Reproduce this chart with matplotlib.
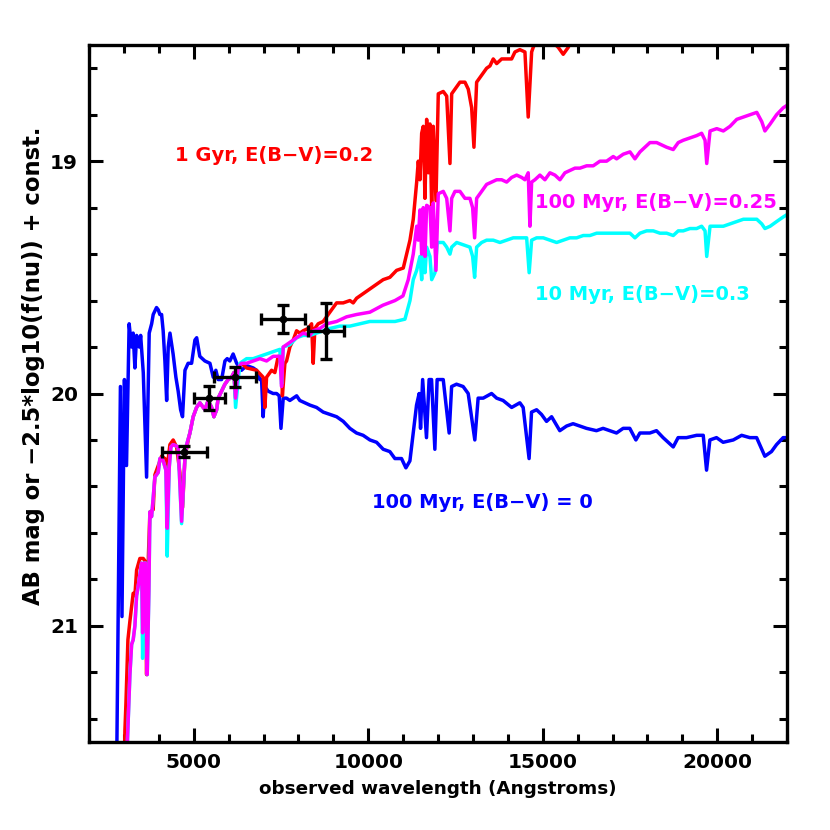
import numpy as np
import matplotlib
matplotlib.use("Agg")
import matplotlib.pyplot as plt
from matplotlib.ticker import MultipleLocator

plt.rcParams['font.family'] = ['DejaVu Sans']
plt.rcParams['font.weight'] = 'bold'

# ---- data: (wavelength [A], AB mag) ----
blue_100myr_e0 = np.array([
    [2720, 21.58], [2800, 21.50], [2900, 19.97], [2945, 20.96], [3015, 19.94], [3075, 20.31],
    [3150, 19.70], [3220, 19.80], [3265, 19.74], [3315, 19.89], [3365, 19.75], [3440, 19.80],
    [3480, 19.75], [3555, 19.91], [3650, 20.36], [3725, 19.74], [3795, 19.70], [3840, 19.66],
    [3935, 19.63], [3985, 19.64], [4030, 19.66], [4080, 19.66], [4125, 19.73], [4175, 19.86],
    [4225, 20.03], [4270, 19.80], [4320, 19.74], [4410, 19.83], [4490, 19.93], [4555, 19.99],
    [4625, 20.07], [4680, 20.10], [4750, 19.90], [4840, 19.87], [4940, 19.87], [5035, 19.77],
    [5085, 19.76], [5175, 19.84], [5320, 19.86], [5465, 19.87], [5560, 19.93], [5635, 19.90],
    [5700, 19.94], [5800, 19.94], [5895, 19.86], [5960, 19.85], [6035, 19.86], [6130, 19.83],
    [6230, 19.87], [6370, 19.90], [6515, 19.88], [6705, 19.89], [6800, 19.90], [6895, 19.94],
    [6945, 19.94], [6990, 20.10], [7040, 19.97], [7135, 19.99], [7275, 20.00], [7375, 20.00],
    [7450, 20.01], [7500, 20.15], [7565, 20.02], [7660, 20.02], [7755, 20.03], [7850, 20.02],
    [7950, 20.01], [8040, 20.03], [8185, 20.04], [8330, 20.05], [8520, 20.06], [8710, 20.08],
    [8900, 20.09], [9095, 20.10], [9285, 20.12], [9475, 20.15], [9665, 20.17], [9855, 20.18],
    [10050, 20.20], [10240, 20.21], [10430, 20.24], [10620, 20.25], [10765, 20.28], [10955, 20.28],
    [11080, 20.32], [11195, 20.29], [11290, 20.17], [11385, 20.05], [11460, 20.00], [11500, 20.15],
    [11560, 19.94], [11670, 20.19], [11745, 19.94], [11815, 19.94], [11910, 20.24], [11975, 19.94],
    [12150, 19.94], [12320, 20.17], [12390, 19.97], [12530, 19.96], [12720, 19.97], [12865, 20.00],
    [13055, 20.20], [13150, 20.02], [13295, 20.02], [13535, 20.00], [13680, 20.02], [13865, 20.03],
    [14110, 20.06], [14345, 20.04], [14440, 20.06], [14610, 20.28], [14680, 20.08], [14825, 20.07],
    [14965, 20.09], [15110, 20.12], [15255, 20.10], [15490, 20.16], [15685, 20.14], [15870, 20.13],
    [16065, 20.14], [16255, 20.15], [16540, 20.16], [16730, 20.15], [16925, 20.16], [17115, 20.17],
    [17305, 20.15], [17495, 20.15], [17670, 20.20], [17785, 20.17], [18070, 20.17], [18260, 20.16],
    [18450, 20.19], [18740, 20.23], [18880, 20.19], [19120, 20.19], [19410, 20.18], [19600, 20.18],
    [19695, 20.33], [19790, 20.20], [19980, 20.19], [20170, 20.21], [20460, 20.20], [20700, 20.18],
    [20935, 20.19], [21130, 20.19], [21365, 20.27], [21555, 20.25], [21700, 20.22], [21890, 20.19],
    [22000, 20.19],
])

red_1gyr_e02 = np.array([
    [3014, 21.58], [3029, 21.45], [3057, 21.34], [3115, 21.06], [3172, 20.98], [3266, 20.86],
    [3315, 20.87], [3364, 20.76], [3458, 20.71], [3553, 20.71], [3602, 20.72], [3650, 21.21],
    [3702, 20.70], [3745, 20.51], [3839, 20.50], [3888, 20.35], [3937, 20.33], [4031, 20.29],
    [4080, 20.27], [4175, 20.28], [4223, 20.34], [4318, 20.22], [4412, 20.20], [4510, 20.23],
    [4604, 20.34], [4682, 20.49], [4748, 20.28], [4842, 20.20], [4891, 20.17], [4985, 20.10],
    [5083, 20.06], [5177, 20.04], [5321, 20.07], [5415, 20.03], [5513, 20.06], [5579, 20.10],
    [5656, 20.07], [5702, 20.02], [5799, 19.99], [5894, 19.96], [5989, 19.94], [6086, 19.93],
    [6152, 19.91], [6200, 20.02], [6275, 19.89], [6372, 19.87], [6515, 19.89], [6802, 19.90],
    [6991, 19.93], [7040, 20.06], [7088, 19.93], [7232, 19.90], [7326, 19.91], [7421, 19.84],
    [7518, 19.84], [7541, 20.01], [7613, 19.87], [7661, 19.86], [7756, 19.80], [7850, 19.77],
    [7948, 19.73], [8042, 19.74], [8137, 19.73], [8280, 19.72], [8378, 19.70], [8424, 19.87],
    [8472, 19.72], [8567, 19.70], [8710, 19.69], [8902, 19.65], [9094, 19.61], [9283, 19.61],
    [9475, 19.60], [9570, 19.61], [9667, 19.59], [9856, 19.57], [10048, 19.55], [10429, 19.51],
    [10621, 19.50], [10813, 19.47], [11005, 19.46], [11197, 19.34], [11291, 19.25], [11389, 19.09],
    [11435, 19.00], [11483, 19.08], [11532, 18.88], [11578, 18.85], [11627, 19.16], [11675, 18.82],
    [11724, 19.05], [11770, 18.84], [11819, 19.20], [11865, 18.85], [11942, 19.17], [12008, 18.71],
    [12151, 18.70], [12249, 18.72], [12343, 19.01], [12392, 18.71], [12486, 18.69], [12629, 18.66],
    [12772, 18.66], [12867, 18.69], [12964, 18.77], [13030, 18.94], [13107, 18.66], [13250, 18.63],
    [13393, 18.60], [13489, 18.59], [13583, 18.56], [13681, 18.58], [13824, 18.56], [13967, 18.56],
    [14110, 18.56], [14205, 18.53], [14345, 18.52], [14491, 18.53], [14585, 18.81], [14683, 18.53],
    [14729, 18.51], [14826, 18.48], [14969, 18.49], [15113, 18.49], [15302, 18.49], [15445, 18.51],
    [15588, 18.54], [15732, 18.51], [15829, 18.48], [16067, 18.44],
])

magenta_100myr_e025 = np.array([
    [3057, 21.58], [3100, 21.50], [3123, 21.41], [3172, 21.21], [3221, 21.08], [3266, 21.06],
    [3315, 21.00], [3364, 20.87], [3410, 20.83], [3458, 20.78], [3507, 20.73], [3536, 21.03],
    [3582, 20.73], [3622, 20.73], [3668, 21.21], [3716, 20.85], [3745, 20.51], [3794, 20.53],
    [3888, 20.36], [3983, 20.34], [4031, 20.28], [4080, 20.28], [4126, 20.29], [4203, 20.33],
    [4241, 20.58], [4298, 20.32], [4347, 20.23], [4412, 20.22], [4556, 20.23], [4653, 20.55],
    [4748, 20.28], [4797, 20.22], [4891, 20.17], [4985, 20.10], [5083, 20.06], [5177, 20.04],
    [5321, 20.07], [5415, 20.03], [5513, 20.06], [5579, 20.10], [5656, 20.07], [5702, 20.02],
    [5799, 19.99], [5894, 19.96], [5989, 19.94], [6086, 19.93], [6152, 19.91], [6200, 20.02],
    [6275, 19.89], [6372, 19.87], [6515, 19.87], [6704, 19.86], [6896, 19.85], [7088, 19.86],
    [7277, 19.84], [7469, 19.84], [7518, 19.97], [7564, 19.80], [7756, 19.78], [7948, 19.76],
    [8137, 19.74], [8329, 19.75], [8424, 19.73], [8615, 19.72], [8807, 19.70], [9094, 19.69],
    [9381, 19.67], [9667, 19.66], [10048, 19.65], [10421, 19.62], [10767, 19.60], [10996, 19.58],
    [11148, 19.51], [11291, 19.40], [11389, 19.28], [11435, 19.34], [11483, 19.21], [11532, 19.40],
    [11578, 19.20], [11627, 19.41], [11675, 19.19], [11770, 19.20], [11819, 19.37], [11865, 19.18],
    [11942, 19.47], [12008, 19.14], [12151, 19.13], [12249, 19.16], [12343, 19.30], [12392, 19.16],
    [12486, 19.13], [12629, 19.13], [12772, 19.16], [12915, 19.16], [12992, 19.20], [13049, 19.33],
    [13107, 19.16], [13250, 19.13], [13393, 19.10], [13536, 19.09], [13681, 19.08], [13824, 19.08],
    [13967, 19.09], [14110, 19.07], [14254, 19.06], [14397, 19.07], [14491, 19.08], [14585, 19.05],
    [14634, 19.28], [14683, 19.09], [14777, 19.08], [14920, 19.06], [15064, 19.08], [15207, 19.05],
    [15351, 19.06], [15494, 19.08], [15637, 19.05], [15780, 19.04], [15924, 19.03], [16067, 19.03],
    [16259, 19.02], [16448, 19.02], [16640, 19.00], [16832, 19.00], [17021, 18.98], [17118, 18.99],
    [17308, 18.97], [17500, 18.96], [17643, 18.99], [17787, 18.96], [17930, 18.94], [18073, 18.92],
    [18265, 18.92], [18408, 18.93], [18551, 18.94], [18740, 18.95], [18884, 18.92], [19027, 18.91],
    [19219, 18.90], [19411, 18.89], [19554, 18.88], [19652, 18.91], [19700, 19.01], [19795, 18.87],
    [19987, 18.86], [20176, 18.87], [20368, 18.85], [20560, 18.82], [20750, 18.81], [20942, 18.80],
    [21134, 18.79], [21277, 18.83], [21367, 18.87], [21517, 18.84], [21702, 18.80], [21894, 18.77],
    [22000, 18.76],
])

cyan_10myr_e03 = np.array([
    [3057, 21.58], [3100, 21.50], [3123, 21.41], [3172, 21.21], [3221, 21.08], [3266, 21.06],
    [3315, 21.00], [3364, 20.87], [3410, 20.83], [3458, 20.78], [3507, 20.73], [3536, 21.14],
    [3582, 20.73], [3622, 20.73], [3668, 21.21], [3716, 20.85], [3745, 20.51], [3794, 20.53],
    [3888, 20.36], [3983, 20.34], [4031, 20.28], [4080, 20.28], [4126, 20.29], [4203, 20.33],
    [4241, 20.70], [4298, 20.32], [4347, 20.23], [4412, 20.22], [4556, 20.23], [4653, 20.56],
    [4748, 20.28], [4797, 20.22], [4891, 20.17], [4985, 20.10], [5083, 20.06], [5177, 20.04],
    [5321, 20.07], [5415, 20.03], [5513, 20.06], [5579, 20.10], [5656, 20.07], [5702, 20.02],
    [5799, 19.99], [5894, 19.96], [5989, 19.94], [6086, 19.93], [6152, 19.91], [6200, 20.06],
    [6323, 19.87], [6515, 19.85], [6704, 19.85], [6896, 19.84], [7088, 19.83], [7277, 19.82],
    [7469, 19.81], [7518, 19.96], [7564, 19.80], [7756, 19.79], [7948, 19.76], [8137, 19.75],
    [8329, 19.75], [8521, 19.74], [8710, 19.73], [8902, 19.72], [9189, 19.71], [9475, 19.71],
    [9761, 19.70], [10048, 19.69], [10421, 19.69], [10767, 19.69], [11053, 19.68], [11197, 19.60],
    [11291, 19.51], [11389, 19.47], [11483, 19.41], [11532, 19.51], [11578, 19.38], [11627, 19.48],
    [11675, 19.37], [11770, 19.41], [11819, 19.51], [11913, 19.48], [11979, 19.35], [12151, 19.35],
    [12249, 19.37], [12343, 19.40], [12392, 19.37], [12535, 19.35], [12724, 19.36], [12915, 19.37],
    [12992, 19.41], [13049, 19.50], [13107, 19.37], [13250, 19.35], [13393, 19.34], [13583, 19.34],
    [13775, 19.35], [13967, 19.34], [14156, 19.33], [14348, 19.33], [14540, 19.33], [14612, 19.48],
    [14683, 19.34], [14826, 19.33], [15016, 19.33], [15207, 19.34], [15399, 19.35], [15588, 19.34],
    [15780, 19.33], [15972, 19.33], [16162, 19.32], [16354, 19.32], [16546, 19.31], [16735, 19.31],
    [16927, 19.31], [17118, 19.31], [17308, 19.31], [17500, 19.31], [17643, 19.33], [17787, 19.31],
    [17978, 19.30], [18168, 19.30], [18360, 19.31], [18551, 19.31], [18740, 19.32], [18884, 19.30],
    [19027, 19.30], [19219, 19.29], [19411, 19.29], [19554, 19.28], [19652, 19.30], [19700, 19.41],
    [19795, 19.28], [19987, 19.28], [20176, 19.28], [20368, 19.27], [20560, 19.26], [20750, 19.25],
    [20942, 19.25], [21134, 19.25], [21277, 19.27], [21367, 19.29], [21517, 19.28], [21702, 19.26],
    [21894, 19.24], [22000, 19.23],
])

# photometry points
phot_wl = [4730, 5450, 6190, 7550, 8790]
phot_mag = [20.25, 20.02, 19.93, 19.68, 19.73]
phot_wl_err = [650, 440, 600, 635, 510]
phot_mag_err = [0.022, 0.052, 0.043, 0.061, 0.12]

labels = ["1 Gyr, E(B\u2212V)=0.2", "100 Myr, E(B\u2212V)=0.25",
          "10 Myr, E(B\u2212V)=0.3", "100 Myr, E(B\u2212V) = 0"]
label_pos = [(4460, 18.974), (14775, 19.177), (14775, 19.573), (10105, 20.47)]
label_colors = ['#ff0000', '#ff00ff', '#00ffff', '#0000ff']

# ---- figure ----
fig = plt.figure(figsize=(8.3, 8.3), dpi=100)
ax = fig.add_axes([89/830, 1-742/830, (787-89)/830, (742-45)/830])

lw = 2.5
ax.plot(blue_100myr_e0[:, 0], blue_100myr_e0[:, 1], color='#0000ff', lw=lw)
ax.plot(red_1gyr_e02[:, 0], red_1gyr_e02[:, 1], color='#ff0000', lw=lw)
ax.plot(cyan_10myr_e03[:, 0], cyan_10myr_e03[:, 1], color='#00ffff', lw=lw)
ax.plot(magenta_100myr_e025[:, 0], magenta_100myr_e025[:, 1], color='#ff00ff', lw=lw)

ax.errorbar(phot_wl, phot_mag, xerr=phot_wl_err, yerr=phot_mag_err, fmt='o',
            color='black', ms=4.5, elinewidth=2.4, capsize=4.5, capthick=2.4, zorder=5)

for txt, (x, y), c in zip(labels, label_pos, label_colors):
    ax.text(x, y, txt, color=c, fontsize=14, fontweight='bold', ha='left', va='center')

ax.set_xlim(2000, 22000)
ax.set_ylim(21.5, 18.5)
ax.xaxis.set_minor_locator(MultipleLocator(1000))
ax.yaxis.set_minor_locator(MultipleLocator(0.2))
ax.set_xticks([5000, 10000, 15000, 20000])
ax.set_xticklabels(['5000', '10000', '15000', '20000'])
ax.set_yticks([19, 20, 21])
ax.set_yticklabels(['19', '20', '21'])

ax.tick_params(which='both', direction='in', top=True, right=True, width=2.2,
               labelsize=14.5, pad=8)
ax.tick_params(which='major', length=10)
ax.tick_params(which='minor', length=5.5)
for s in ax.spines.values():
    s.set_linewidth(2.4)

ax.set_xlabel("observed wavelength (Angstroms)", fontsize=13.2, fontweight='bold')
ax.set_ylabel("AB mag or \u22122.5*log10(f(nu)) + const.", fontsize=16.3, fontweight='bold')
ax.xaxis.set_label_coords(0.5, -0.055)
ax.yaxis.set_label_coords(-0.063, 0.54)

fig.savefig("out.png", dpi=100)
